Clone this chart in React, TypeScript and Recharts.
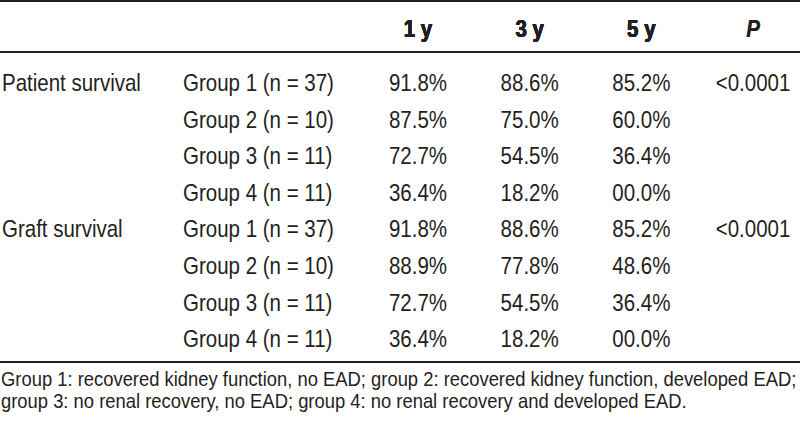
import { ComposedChart, Scatter, XAxis, YAxis } from "recharts";

const periods = ["1 y", "3 y", "5 y"];
const pHeader = "P";
const sections = ["Patient survival", "Graft survival"];
const groups = ["Group 1 (n = 37)", "Group 2 (n = 10)", "Group 3 (n = 11)", "Group 4 (n = 11)"];

// survival (%) per group at 1 y, 3 y, 5 y
const patientSurvival = [
  [91.8, 88.6, 85.2],
  [87.5, 75.0, 60.0],
  [72.7, 54.5, 36.4],
  [36.4, 18.2, 0.0],
];
const graftSurvival = [
  [91.8, 88.6, 85.2],
  [88.9, 77.8, 48.6],
  [72.7, 54.5, 36.4],
  [36.4, 18.2, 0.0],
];
const pValues = ["<0.0001", "<0.0001"];

const footnote = [
  "Group 1: recovered kidney function, no EAD; group 2: recovered kidney function, developed EAD;",
  "group 3: no renal recovery, no EAD; group 4: no renal recovery and developed EAD.",
];

const INK = "#231f20";
const FONT = '"Liberation Sans", Arial, Helvetica, sans-serif';
const SIZE = 20.5;
const STRETCH = 1.17;

const survival = [patientSurvival, graftSurvival];
const cells = sections.flatMap((section, s) =>
  groups.flatMap((group, g) => {
    const row = `${section}|${group}`;
    const out = survival[s][g].map((v, c) => ({
      col: periods[c],
      row,
      text: `${v.toFixed(1).padStart(4, "0")}%`,
    }));
    if (g === 0) out.push({ col: pHeader, row, text: pValues[s] });
    return out;
  })
);

type StretchProps = {
  x: number;
  y: number;
  anchor?: "start" | "middle" | "end";
  size?: number;
  k?: number;
  bold?: boolean;
  italic?: boolean;
  children: string;
};

// condensed-looking text: normal width, stretched vertically
function StretchText({ x, y, anchor = "middle", size = SIZE, k = STRETCH, bold, italic, children }: StretchProps) {
  return (
    <text
      transform={`translate(${x},${y}) scale(1,${k})`}
      textAnchor={anchor}
      fontFamily={FONT}
      fontSize={size}
      fontWeight={bold ? 700 : 400}
      fontStyle={italic ? "italic" : "normal"}
      fill={INK}
    >
      {children}
    </text>
  );
}

const HeaderTick = (props: any) => {
  const { x, payload } = props;
  return (
    <StretchText x={x} y={35} bold italic={payload.value === pHeader}>
      {payload.value}
    </StretchText>
  );
};

const RowTick = (props: any) => {
  const { y, payload } = props;
  const [section, group] = String(payload.value).split("|");
  return (
    <g>
      {group === groups[0] && (
        <StretchText x={2} y={y + 8.5} anchor="start">
          {section}
        </StretchText>
      )}
      <StretchText x={183} y={y + 8.5} anchor="start">
        {group}
      </StretchText>
    </g>
  );
};

const CellShape = (props: any) => {
  const { cx, cy, payload } = props;
  return (
    <StretchText x={cx} y={cy + 8.5}>
      {payload.text}
    </StretchText>
  );
};

const Footnote = (props: any) => {
  const vb = props.viewBox || { x: 0, y: 360 };
  return (
    <g>
      {footnote.map((line, i) => (
        <StretchText key={i} x={vb.x + 1} y={vb.y + 24 + i * 22} anchor="start" size={18.4} k={1.08}>
          {line}
        </StretchText>
      ))}
    </g>
  );
};

export default function App() {
  return (
    <div
      style={{
        position: "absolute",
        left: 0,
        top: 0,
        width: 800,
        height: 425,
        background: "#fff",
        borderTop: `2px solid ${INK}`,
        boxSizing: "border-box",
      }}
    >
      <ComposedChart width={800} height={423} data={cells} margin={{ top: 0, right: -9, bottom: 0, left: 0 }}>
        <XAxis
          xAxisId="head"
          orientation="top"
          type="category"
          scale="point"
          dataKey="col"
          allowDuplicatedCategory={false}
          height={50}
          padding={{ left: 418, right: 56 }}
          axisLine={{ stroke: INK, strokeWidth: 1.8 }}
          tickLine={false}
          tick={<HeaderTick />}
          interval={0}
        />
        <XAxis
          xAxisId="foot"
          orientation="bottom"
          type="number"
          height={63}
          axisLine={{ stroke: INK, strokeWidth: 1.8 }}
          tick={false}
          tickLine={false}
          label={{ content: (p: any) => <Footnote {...p} /> }}
        />
        <YAxis
          type="category"
          scale="point"
          dataKey="row"
          allowDuplicatedCategory={false}
          reversed
          mirror
          width={120}
          padding={{ top: 30.5, bottom: 23.3 }}
          axisLine={false}
          tickLine={false}
          tick={<RowTick />}
          interval={0}
        />
        <Scatter xAxisId="head" data={cells} dataKey="col" shape={<CellShape />} isAnimationActive={false} />
      </ComposedChart>
    </div>
  );
}
